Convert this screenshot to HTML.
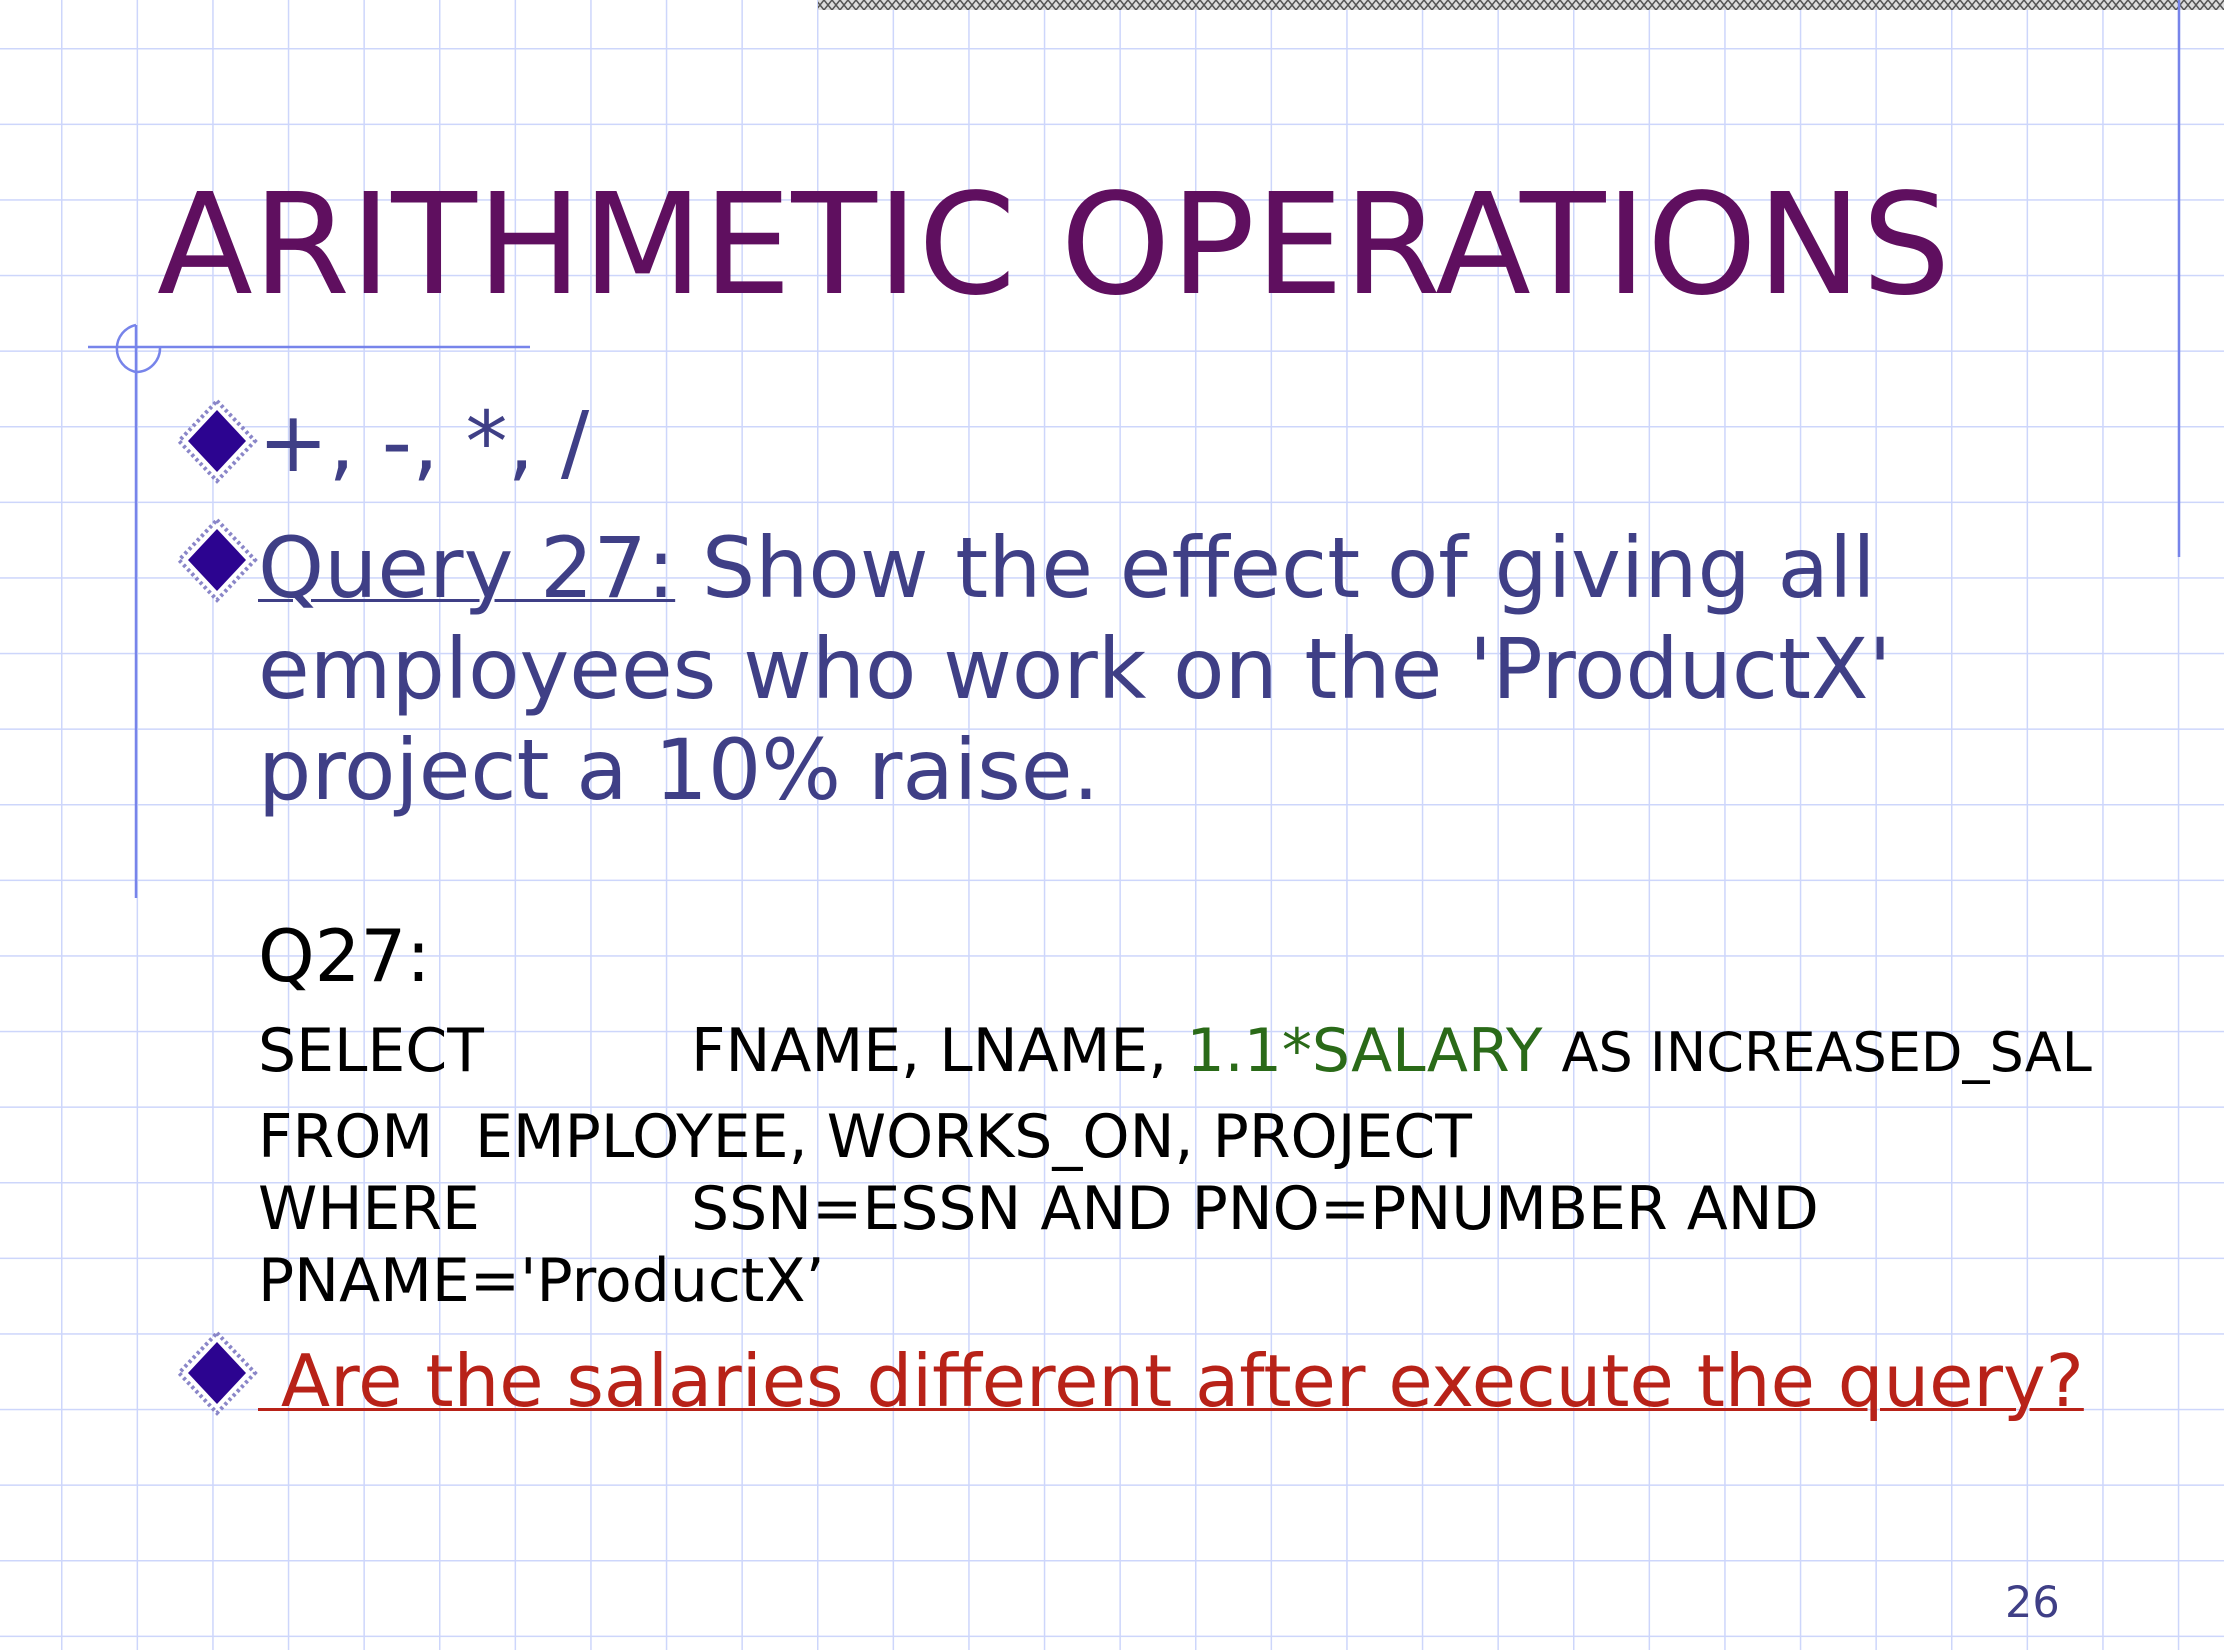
<!DOCTYPE html>
<html><head><meta charset="utf-8">
<style>
html,body{margin:0;padding:0;}
body{width:2224px;height:1650px;position:relative;overflow:hidden;background:#fff;font-family:"DejaVu Sans","Liberation Sans",sans-serif;}
.t{position:absolute;white-space:nowrap;line-height:1;}
</style></head>
<body>
<svg width="2224" height="1650" style="position:absolute;left:0;top:0">
<defs>
<pattern id="grid" x="61" y="48" width="75.6" height="75.6" patternUnits="userSpaceOnUse">
<path d="M0 0 V75.6 M0 0 H75.6" stroke="#cdd6fb" stroke-width="3" fill="none"/>
</pattern>
<pattern id="hatch" width="8" height="10" patternUnits="userSpaceOnUse">
<rect width="8" height="10" fill="#ddd"/>
<path d="M0 0 L8 10 M8 0 L0 10" stroke="#555" stroke-width="1.5"/>
</pattern>
<g id="dia">
<polygon points="0,-40 38,0 0,40 -38,0" fill="#fff" stroke="#8a86c8" stroke-width="4" stroke-dasharray="3 3"/>
<polygon points="0,-31 29,0 0,31 -29,0" fill="#2c0490"/>
</g>
</defs>
<rect width="2224" height="1650" fill="url(#grid)"/>
<rect x="818" y="0" width="1406" height="10" fill="url(#hatch)"/>
<line x1="2179" y1="0" x2="2179" y2="557" stroke="#7784ea" stroke-width="2.5"/>
<line x1="88" y1="347" x2="530" y2="347" stroke="#7784ea" stroke-width="2.5"/>
<line x1="136" y1="325" x2="136" y2="898" stroke="#7784ea" stroke-width="2.5"/>
<path d="M136 325 A24 24 0 0 0 136 372 A24 24 0 0 0 160 347" fill="none" stroke="#7784ea" stroke-width="2.5"/>
<use href="#dia" x="217" y="441"/>
<use href="#dia" x="217" y="560"/>
<use href="#dia" x="217" y="1373"/>
</svg>

<div class="t" style="left:157px;top:176px;font-size:140px;color:#5f0f5f;">ARITHMETIC OPERATIONS</div>

<div class="t" style="left:258px;top:400px;font-size:84px;color:#3f3f86;">+, -, *, /</div>

<div class="t" style="left:258px;top:518px;font-size:84px;color:#3f3f86;line-height:101px;"><span style="text-decoration:underline;text-decoration-thickness:3px;">Query 27:</span> Show the effect of giving all<br>employees who work on the 'ProductX'<br>project a 10% raise.</div>

<div class="t" style="left:258px;top:920px;font-size:72px;color:#000;">Q27:</div>

<div class="t" style="left:258px;top:1021px;font-size:60px;color:#000;">SELECT</div>
<div class="t" style="left:691px;top:1021px;font-size:60px;color:#000;">FNAME, LNAME, <span style="color:#2a6a18">1.1*SALARY</span> <span style="font-size:54px">AS INCREASED_SAL</span></div>
<div class="t" style="left:258px;top:1107px;font-size:60px;color:#000;">FROM</div>
<div class="t" style="left:475px;top:1107px;font-size:60px;color:#000;">EMPLOYEE, WORKS_ON, PROJECT</div>
<div class="t" style="left:258px;top:1179px;font-size:60px;color:#000;">WHERE</div>
<div class="t" style="left:691px;top:1179px;font-size:60px;color:#000;">SSN=ESSN AND PNO=PNUMBER AND</div>
<div class="t" style="left:258px;top:1251px;font-size:60px;color:#000;">PNAME='ProductX’</div>

<div class="t" style="left:258px;top:1345px;font-size:72px;color:#b82218;text-decoration:underline;text-decoration-thickness:3px;">&nbsp;Are the salaries different after execute the query?</div>

<div class="t" style="left:2005px;top:1582px;font-size:43px;color:#3f3f86;">26</div>
</body></html>
